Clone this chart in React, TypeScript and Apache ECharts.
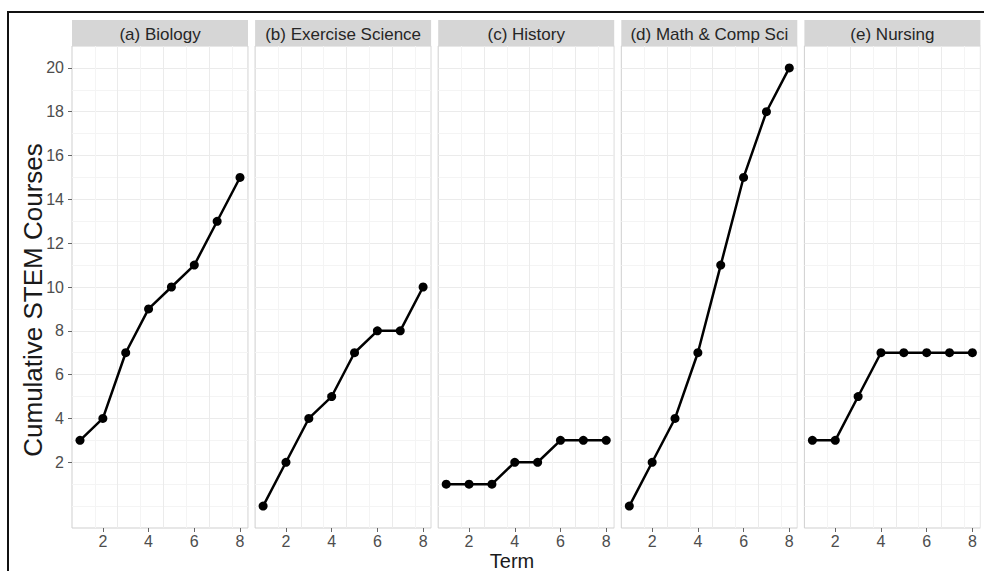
import React, { useEffect, useRef } from 'react';
import * as echarts from 'echarts';

const terms = [1, 2, 3, 4, 5, 6, 7, 8];
const panelTitles = ['(a) Biology', '(b) Exercise Science', '(c) History', '(d) Math & Comp Sci', '(e) Nursing'];
const biology = [3, 4, 7, 9, 10, 11, 13, 15];
const exerciseScience = [0, 2, 4, 5, 7, 8, 8, 10];
const history = [1, 1, 1, 2, 2, 3, 3, 3];
const mathCompSci = [0, 2, 4, 7, 11, 15, 18, 20];
const nursing = [3, 3, 5, 7, 7, 7, 7, 7];
const panelValues = [biology, exerciseScience, history, mathCompSci, nursing];
const xTickValues = [2, 4, 6, 8];
const yTickValues = [2, 4, 6, 8, 10, 12, 14, 16, 18, 20];
const xLabel = 'Term';
const yLabel = 'Cumulative STEM Courses';

const FONT = '"Liberation Sans", Arial, sans-serif';
const PANEL_LEFT = 72;
const PANEL_STEP = 183.1;
const PANEL_W = 176;
const PANEL_TOP = 46;
const PANEL_H = 482;
const STRIP_TOP = 20;
const STRIP_H = 26;
const X_MIN = 0.65;
const X_MAX = 8.35;
const Y_MIN = -1;
const Y_MAX = 21;
const MAJOR = '#ebebeb';
const MINOR = '#f4f4f4';
const CLEAR = 'rgba(0,0,0,0)';

// colours of the grid lines, following the ticks of the grid axes
const xGridColors = [CLEAR, ...terms.map((t) => (t % 2 === 0 ? MAJOR : MINOR)), CLEAR];
const yGridColors: string[] = [];
for (let v = Y_MIN; v <= Y_MAX; v++) {
  if (v === Y_MIN || v === Y_MAX) yGridColors.push(CLEAR);
  else yGridColors.push(yTickValues.includes(v) ? MAJOR : MINOR);
}

function buildOption() {
  const grid: any[] = [];
  const xAxis: any[] = [];
  const yAxis: any[] = [];
  const series: any[] = [];
  const graphic: any[] = [];

  panelTitles.forEach((title, i) => {
    const left = PANEL_LEFT + i * PANEL_STEP;
    grid.push({
      left,
      top: PANEL_TOP,
      width: PANEL_W,
      height: PANEL_H,
      show: true,
      backgroundColor: '#ffffff',
      borderColor: '#cfcfcf',
      borderWidth: 1,
      containLabel: false,
      outerBoundsMode: 'none',
    });
    xAxis.push({
      gridIndex: i,
      type: 'value',
      min: X_MIN,
      max: X_MAX,
      interval: 1,
      position: 'bottom',
      axisLine: { show: false, onZero: false },
      axisTick: { show: true, customValues: xTickValues, length: 4, lineStyle: { color: '#666', width: 1 } },
      axisLabel: { show: true, customValues: xTickValues, margin: 5, fontSize: 16, lineHeight: 16, color: '#4d4d4d', fontFamily: FONT },
      splitLine: { show: false },
    });
    xAxis.push({
      gridIndex: i,
      type: 'value',
      min: X_MIN,
      max: X_MAX,
      interval: 1,
      position: 'top',
      axisLine: { show: false, onZero: false },
      axisTick: { show: false },
      axisLabel: { show: false },
      splitLine: { show: true, lineStyle: { color: xGridColors, width: 1 } },
    });
    yAxis.push({
      gridIndex: i,
      type: 'value',
      min: Y_MIN,
      max: Y_MAX,
      interval: 1,
      position: 'left',
      axisLine: { show: false, onZero: false },
      axisTick: { show: i === 0, customValues: yTickValues, length: 4, lineStyle: { color: '#666', width: 1 } },
      axisLabel: { show: i === 0, customValues: yTickValues, margin: 8, fontSize: 16, color: '#4d4d4d', fontFamily: FONT },
      splitLine: { show: false },
    });
    yAxis.push({
      gridIndex: i,
      type: 'value',
      min: Y_MIN,
      max: Y_MAX,
      interval: 1,
      position: 'right',
      axisLine: { show: false, onZero: false },
      axisTick: { show: false },
      axisLabel: { show: false },
      splitLine: { show: true, lineStyle: { color: yGridColors, width: 1 } },
    });
    series.push({
      type: 'line',
      name: title,
      xAxisIndex: i * 2,
      yAxisIndex: i * 2,
      data: terms.map((t, k) => [t, panelValues[i][k]]),
      symbol: 'circle',
      symbolSize: 9,
      lineStyle: { color: '#000', width: 2.5 },
      itemStyle: { color: '#000' },
      z: 5,
    });
    graphic.push({
      type: 'rect',
      shape: { x: left, y: STRIP_TOP, width: PANEL_W, height: STRIP_H },
      style: { fill: '#d6d6d6' },
      z: 10,
    });
    graphic.push({
      type: 'text',
      x: left + PANEL_W / 2,
      y: STRIP_TOP + STRIP_H / 2 + 1,
      style: { text: title, font: `17px ${FONT}`, fill: '#262626', textAlign: 'center', textVerticalAlign: 'middle' },
      z: 11,
    });
  });

  graphic.push({
    type: 'text',
    x: 33,
    y: 300,
    rotation: Math.PI / 2,
    style: { text: yLabel, font: `26px ${FONT}`, fill: '#1a1a1a', textAlign: 'center', textVerticalAlign: 'middle' },
    z: 11,
  });
  graphic.push({
    type: 'text',
    x: 512,
    y: 561,
    style: { text: xLabel, font: `20px ${FONT}`, fill: '#1a1a1a', textAlign: 'center', textVerticalAlign: 'middle' },
    z: 11,
  });
  graphic.push({
    type: 'line',
    shape: { x1: 7, y1: 12, x2: 984, y2: 12 },
    style: { stroke: '#111', lineWidth: 2 },
    z: 12,
  });
  graphic.push({
    type: 'line',
    shape: { x1: 8, y1: 12, x2: 8, y2: 571 },
    style: { stroke: '#111', lineWidth: 2 },
    z: 12,
  });

  return {
    animation: false,
    backgroundColor: '#ffffff',
    grid,
    xAxis,
    yAxis,
    series,
    graphic,
  };
}

export default function App() {
  const ref = useRef<HTMLDivElement>(null);
  useEffect(() => {
    const chart = echarts.init(ref.current!, null, { renderer: 'svg' });
    chart.setOption(buildOption() as any);
    return () => chart.dispose();
  }, []);
  return (
    <div
      ref={ref}
      style={{ position: 'fixed', left: 0, top: 0, width: 984, height: 571, background: '#fff' }}
    />
  );
}
